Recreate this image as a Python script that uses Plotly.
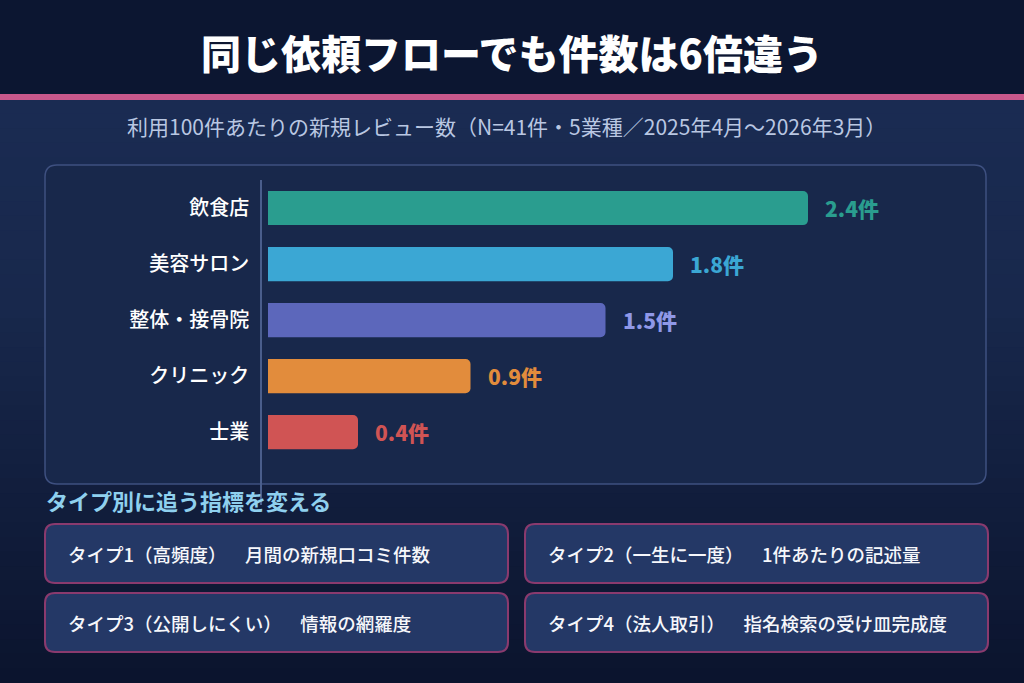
import plotly.graph_objects as go

W, H = 1024, 683

categories = ["飲食店", "美容サロン", "整体・接骨院", "クリニック", "士業"]
values = [2.4, 1.8, 1.5, 0.9, 0.4]
bar_colors = ["#2a9d8f", "#3ba7d4", "#5c67bb", "#e28c3c", "#d05454"]
label_colors = ["#2a9d8f", "#3ba7d4", "#8f98e8", "#e28c3c", "#d05454"]

title = "同じ依頼フローでも件数は6倍違う"
subtitle = "利用100件あたりの新規レビュー数（N=41件・5業種／2025年4月〜2026年3月）"
section = "タイプ別に追う指標を変える"
card_types = ["タイプ1（高頻度）", "タイプ2（一生に一度）", "タイプ3（公開しにくい）", "タイプ4（法人取引）"]
card_metrics = ["月間の新規口コミ件数", "1件あたりの記述量", "情報の網羅度", "指名検索の受け皿完成度"]

FONT = "Noto Sans CJK JP"


def px(x, y):
    # pixel -> paper coords
    return x / W, 1 - y / H


def rounded_rect(x0, y0, x1, y1, r):
    rx, ry = r / W, r / H
    a0, b1 = px(x0, y0)
    a1, b0 = px(x1, y1)
    return (f"M {a0+rx},{b1} L {a1-rx},{b1} Q {a1},{b1} {a1},{b1-ry} "
            f"L {a1},{b0+ry} Q {a1},{b0} {a1-rx},{b0} "
            f"L {a0+rx},{b0} Q {a0},{b0} {a0},{b0+ry} "
            f"L {a0},{b1-ry} Q {a0},{b1} {a0+rx},{b1} Z")


def mix(c1, c2, t):
    c1 = [int(c1[i:i+2], 16) for i in (1, 3, 5)]
    c2 = [int(c2[i:i+2], 16) for i in (1, 3, 5)]
    return "rgb(%d,%d,%d)" % tuple(round(a + (b - a) * t) for a, b in zip(c1, c2))


def text_at(x, y, txt, size, color, anchor="center", weight="normal"):
    ax, ay = px(x, y)
    return dict(x=ax, y=ay, xref="paper", yref="paper", text=txt, showarrow=False,
                xanchor=anchor, yanchor="middle",
                font=dict(family=FONT, size=size, color=color, weight=weight))


shapes = []

# background: dark header band, then vertical gradient
shapes.append(dict(type="rect", xref="paper", yref="paper", x0=0, x1=1,
                   y0=1 - 96 / H, y1=1, fillcolor="#0c1631", line_width=0, layer="below"))
steps = 40
top, bottom = 99, H
for i in range(steps):
    ya = top + (bottom - top) * i / steps
    yb = top + (bottom - top) * (i + 1) / steps + 1
    t = i / (steps - 1)
    if t < 0.35:
        col = mix("#1a2b52", "#18284c", t / 0.35)
    else:
        col = mix("#18284c", "#0b142e", (t - 0.35) / 0.65)
    shapes.append(dict(type="rect", xref="paper", yref="paper", x0=0, x1=1,
                       y0=1 - yb / H, y1=1 - ya / H, fillcolor=col, line_width=0, layer="below"))

# pink rule under title
shapes.append(dict(type="rect", xref="paper", yref="paper", x0=0, x1=1,
                   y0=1 - 100 / H, y1=1 - 94 / H, fillcolor="#c9588b", line_width=0, layer="below"))

# chart panel
shapes.append(dict(type="path", xref="paper", yref="paper",
                   path=rounded_rect(45, 165, 986, 484, 12),
                   fillcolor="#18284b", line=dict(color="#3e5080", width=1.5), layer="below"))

# cards
card_boxes = [(45, 524, 508, 583), (525, 524, 988, 583),
              (45, 593, 508, 652), (525, 593, 988, 652)]
for (x0, y0, x1, y1) in card_boxes:
    shapes.append(dict(type="path", xref="paper", yref="paper",
                       path=rounded_rect(x0, y0, x1, y1, 10),
                       fillcolor="#243866", line=dict(color="#8a3a6e", width=2), layer="below"))

fig = go.Figure()
fig.add_trace(go.Bar(
    x=values, y=categories, orientation="h",
    marker=dict(color=bar_colors, line_width=0, cornerradius=5),
    width=0.61, hoverinfo="skip",
))

annotations = []
for c, v, col in zip(categories, values, label_colors):
    annotations.append(dict(x=v, y=c, xref="x", yref="y", text=f"{v}件",
                            xanchor="left", yanchor="middle", xshift=15, showarrow=False,
                            font=dict(family=FONT, size=21, color=col, weight=900)))

annotations.append(text_at(512, 52, title, 40, "#ffffff", weight=900))
annotations.append(text_at(506, 126, subtitle, 21, "#b9c7e2"))
annotations.append(text_at(44, 500, section, 22, "#8fd0ee", anchor="left", weight="bold"))
for kind, metric, (x0, y0, x1, y1) in zip(card_types, card_metrics, card_boxes):
    annotations.append(text_at(x0 + 21, (y0 + y1) / 2, kind + "\u3000\u2002" + metric,
                               18.5, "#f6f7fb", anchor="left", weight=500))

fig.update_layout(
    width=W, height=H,
    margin=dict(l=0, r=0, t=0, b=0),
    paper_bgcolor="#0c1631", plot_bgcolor="rgba(0,0,0,0)",
    showlegend=False,
    shapes=shapes,
    annotations=annotations,
    font=dict(family=FONT),
    xaxis=dict(domain=[262 / W, 985 / W], range=[-6 / 225, 717 / 225],
               showgrid=False, zeroline=False, showticklabels=False, showline=False),
    yaxis=dict(domain=[1 - 505 / H, 1 - 180 / H], range=[5.3, -0.5],
               type="category", categoryorder="array", categoryarray=categories,
               showgrid=False, zeroline=False, showline=True, linecolor="#4a5e8c", linewidth=1.5,
               ticks="", ticklabelstandoff=7,
               tickfont=dict(family=FONT, size=20, color="#ffffff", weight=500)),
)

fig.write_html("out.html", config={"displayModeBar": False},
               post_script="document.body.style.margin='0';")
